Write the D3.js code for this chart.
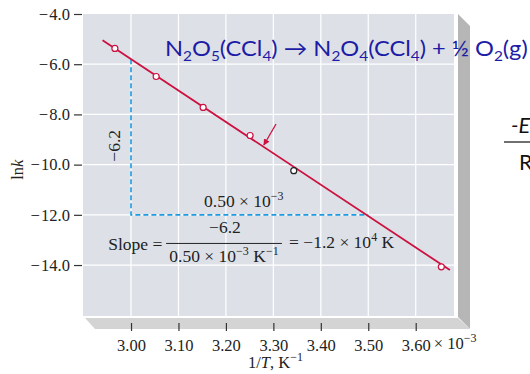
<!DOCTYPE html>
<html>
<head>
<meta charset="utf-8">
<script src="https://cdn.jsdelivr.net/npm/d3@7"></script>
<style>
  body { margin: 0; background: #fff; }
  .serif { font-family: "Liberation Serif", "Times New Roman", serif; }
  .sans { font-family: Lato, "Open Sans", sans-serif; }
</style>
</head>
<body>
<svg id="chart" width="530" height="374"></svg>
<script>
// data
const invT = [2.966, 3.053, 3.152, 3.251, 3.343, 3.654]   // 1/T, x 10^-3 K^-1
const lnk = [-5.37, -6.49, -7.72, -8.84, -10.24, -14.07]
const pointColor = ['red', 'red', 'red', 'red', 'black', 'red']
const fitX = [2.94, 3.672]
const fitY = [-5.05, -14.2]
const xTicks = [3.00, 3.10, 3.20, 3.30, 3.40, 3.50, 3.60]
const yTicks = [-4.0, -6.0, -8.0, -10.0, -12.0, -14.0]
const triX = [3.00, 3.00, 3.50]
const triY = [-5.8, -12.0, -12.0]

const margin = { top: 14, right: 76, bottom: 58, left: 83 }
const width = 530, height = 374

const svg = d3.select('#chart')

const x = d3.scaleLinear()
  .domain([2.8988, 3.6807])
  .range([margin.left, width - margin.right])
const y = d3.scaleLinear()
  .domain([-4, -16.03])
  .range([margin.top, height - margin.bottom])

const red = '#cc1140'
const blue = '#1a9ae0'
const navy = '#1c1ca6'
const ink = '#222'
const x0 = x.range()[0], x1 = x.range()[1]
const y0 = y.range()[0], y1 = y.range()[1]

// 3d box panels
svg.append('polygon')
  .attr('points', [[x1 + 4, y0], [x1 + 16, y0 + 12], [x1 + 16, y1 + 13], [x1 + 4, y1 + 1]].join(' '))
  .attr('fill', '#b6b6b6')
svg.append('polygon')
  .attr('points', [[x0 + 2, y1 + 2], [x1 + 4, y1 + 2], [x1 + 16, y1 + 13], [x0 + 12, y1 + 13]].join(' '))
  .attr('fill', '#d4d4d4')

// plot background
svg.append('rect')
  .attr('x', x0).attr('y', y0)
  .attr('width', x1 - x0).attr('height', y1 - y0)
  .attr('fill', '#dde1e7')

// grid
svg.append('g').selectAll('line').data(xTicks).join('line')
  .attr('x1', d => x(d)).attr('x2', d => x(d))
  .attr('y1', y0).attr('y2', y1)
  .attr('stroke', '#fff').attr('stroke-width', 1.2)
svg.append('g').selectAll('line').data(yTicks.slice(1)).join('line')
  .attr('x1', x0).attr('x2', x1)
  .attr('y1', d => y(d)).attr('y2', d => y(d))
  .attr('stroke', '#fff').attr('stroke-width', 1.2)

// y axis
const yAxis = svg.append('g')
  .attr('transform', `translate(${x0 - 1},0)`)
  .call(d3.axisLeft(y).tickValues(yTicks).tickSize(8).tickPadding(4)
    .tickFormat(d => '\u2212\u200a' + Math.abs(d).toFixed(1)))
yAxis.select('.domain').remove()
yAxis.selectAll('line').attr('stroke', '#333').attr('stroke-width', 1.2)
yAxis.selectAll('text').attr('class', 'serif').style('font-size', '16.5px').attr('fill', ink)

// x axis
const xAxis = svg.append('g')
  .attr('transform', `translate(0,${y1 + 7})`)
  .call(d3.axisBottom(x).tickValues(xTicks).tickSize(8).tickPadding(8)
    .tickFormat(d => d.toFixed(2)))
xAxis.select('.domain').remove()
xAxis.selectAll('line').attr('stroke', '#333').attr('stroke-width', 1.2)
xAxis.selectAll('text').attr('class', 'serif').style('font-size', '16.5px').attr('fill', ink)

// helper for serif annotation text
function label(px, py, size = 17.5) {
  return svg.append('text').attr('class', 'serif')
    .attr('x', px).attr('y', py)
    .style('font-size', size + 'px').attr('fill', ink)
}
function sup(t, s, shift = -7) {
  t.append('tspan').attr('dy', shift).style('font-size', '12px').text(s)
}

// "× 10^-3" after last tick
const xExp = label(x(3.60) + 18, y1 + 33, 16.5)
xExp.append('tspan').text('\u00d7 10')
sup(xExp, '\u22123')

// axis titles
const xt = label(248, 368, 16.5)
xt.append('tspan').text('1/')
xt.append('tspan').attr('font-style', 'italic').text('T')
xt.append('tspan').text(', K')
sup(xt, '\u22121')

const yt = svg.append('text').attr('class', 'serif')
  .attr('transform', `translate(23,${y(-10.2)}) rotate(-90)`)
  .attr('text-anchor', 'middle')
  .style('font-size', '16.5px').attr('fill', ink)
yt.append('tspan').text('ln')
yt.append('tspan').attr('font-style', 'italic').text('k')

// blue dashed triangle
svg.append('path')
  .datum(d3.zip(triX, triY))
  .attr('d', d3.line().x(d => x(d[0])).y(d => y(d[1])))
  .attr('fill', 'none').attr('stroke', blue)
  .attr('stroke-width', 1.6).attr('stroke-dasharray', '5,3')

// fit line
svg.append('path')
  .datum(d3.zip(fitX, fitY))
  .attr('d', d3.line().x(d => x(d[0])).y(d => y(d[1])))
  .attr('stroke', red).attr('stroke-width', 1.8).attr('fill', 'none')

// points
svg.append('g').selectAll('circle').data(d3.zip(invT, lnk, pointColor)).join('circle')
  .attr('cx', d => x(d[0])).attr('cy', d => y(d[1]))
  .attr('r', 3)
  .attr('fill', '#fff')
  .attr('stroke', d => d[2] === 'black' ? ink : red)
  .attr('stroke-width', 1.2)

// arrow
svg.append('defs').append('marker')
  .attr('id', 'arr').attr('viewBox', '0 0 10 10')
  .attr('refX', 9).attr('refY', 5)
  .attr('markerWidth', 5).attr('markerHeight', 5)
  .attr('orient', 'auto')
  .append('path').attr('d', 'M0,0 L10,5 L0,10 z').attr('fill', red)
svg.append('line')
  .attr('x1', x(3.3056)).attr('y1', y(-8.38))
  .attr('x2', x(3.280)).attr('y2', y(-9.22))
  .attr('stroke', red).attr('stroke-width', 1.3)
  .attr('marker-end', 'url(#arr)')

// annotations
svg.append('text').attr('class', 'serif')
  .attr('transform', `translate(${x(2.977)},${y(-9.25)}) rotate(-90)`)
  .attr('text-anchor', 'middle')
  .style('font-size', '17.5px').attr('fill', ink)
  .text('\u22126.2')

const run = label(x(3.154), y(-11.69))
run.append('tspan').text('0.50 \u00d7 10')
sup(run, '\u22123')

label(x(2.952), y(-13.4)).text('Slope =')

svg.append('line')
  .attr('x1', x(3.074)).attr('x2', x(3.318))
  .attr('y1', y(-13.14)).attr('y2', y(-13.14))
  .attr('stroke', ink).attr('stroke-width', 1)

label(x(3.198), y(-12.73)).attr('text-anchor', 'middle').text('\u22126.2')

const den = label(x(3.196), y(-13.86)).attr('text-anchor', 'middle')
den.append('tspan').text('0.50 \u00d7 10')
sup(den, '\u22123')
den.append('tspan').attr('dy', 7).text(' K')
sup(den, '\u22121')

const res = label(x(3.333), y(-13.32))
res.append('tspan').text('= \u22121.2 \u00d7 10')
sup(res, '4')
res.append('tspan').attr('dy', 7).text(' K')

// reaction title
const title = svg.append('text').attr('class', 'sans')
  .style('font-size', '21.5px').attr('fill', navy)
const parts = [
  ['N', 0], ['2', 1], ['O', 0], ['5', 1], ['(CCl', 0], ['4', 1], [') \u2192 N', 0], ['2', 1],
  ['O', 0], ['4', 1], ['(CCl', 0], ['4', 1], [') + \u00bd O', 0], ['2', 1], ['(g)', 0]
]
let prev = 0
parts.forEach(([t, sub]) => {
  const shift = sub ? 5 : 0
  title.append('tspan')
    .attr('dy', shift - prev)
    .style('font-size', sub ? '14px' : '21.5px')
    .text(t)
  prev = shift
})
const tw = title.node().getComputedTextLength()
title.attr('transform', `translate(165,56) scale(${363 / tw},1)`)

// clipped Arrhenius fraction at right edge
svg.append('text').attr('class', 'sans')
  .attr('x', 511).attr('y', 133)
  .attr('font-style', 'italic')
  .style('font-size', '21.5px').attr('fill', '#111')
  .text('-E')
svg.append('line')
  .attr('x1', 504).attr('x2', 530).attr('y1', 142).attr('y2', 142)
  .attr('stroke', '#111').attr('stroke-width', 1.2)
svg.append('text').attr('class', 'sans')
  .attr('x', 519).attr('y', 170)
  .style('font-size', '21.5px').attr('fill', '#111')
  .text('R')
</script>
</body>
</html>
